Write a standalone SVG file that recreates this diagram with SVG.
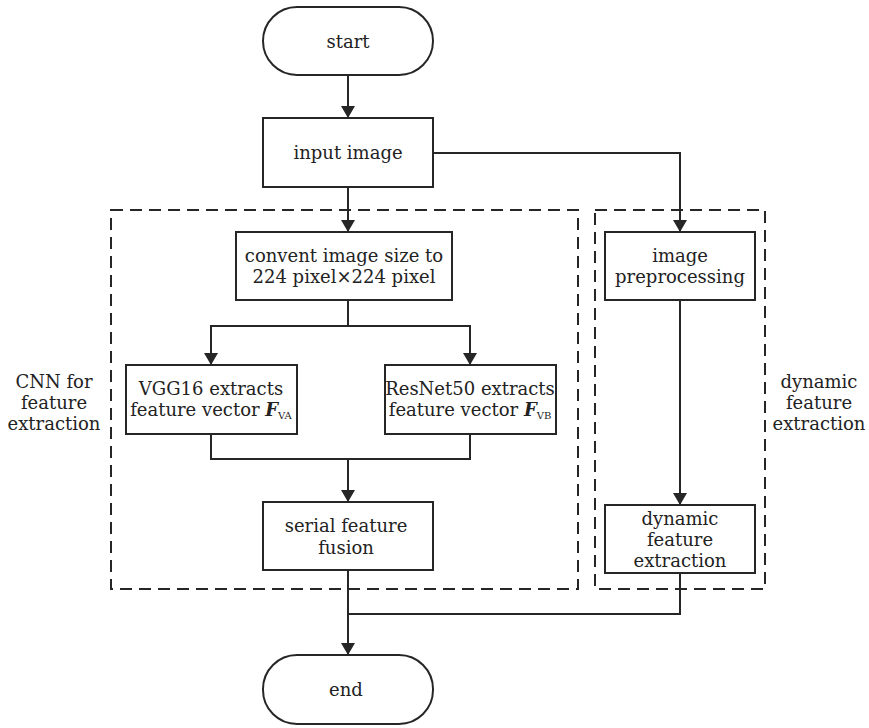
<svg xmlns="http://www.w3.org/2000/svg" width="869" height="728" viewBox="0 0 869 728">
<style>
  .box { fill: #fff; stroke: #262626; stroke-width: 2; }
  .dash { fill: none; stroke: #262626; stroke-width: 2; stroke-dasharray: 12 7; }
  .line { fill: none; stroke: #262626; stroke-width: 2; }
  .arr { marker-end: url(#ah); }
  text { font-family: "DejaVu Serif", "Liberation Serif", serif; font-size: 18px; fill: #222; text-anchor: middle; }
  .fv { font-weight: bold; font-style: italic; }
  .sub { font-size: 10px; }
</style>
<defs>
  <marker id="ah" markerWidth="12" markerHeight="14" refX="12" refY="7" orient="auto" markerUnits="userSpaceOnUse">
    <path d="M0,0 L12,7 L0,14 Z" fill="#262626"/>
  </marker>
</defs>
<rect width="869" height="728" fill="#fff"/>

<g id="groups">
  <rect id="cnn-group" class="dash" x="111" y="210" width="467" height="379"/>
  <rect id="dyn-group" class="dash" x="595" y="210" width="170" height="379"/>
  <text x="54" y="388">CNN for</text>
  <text x="54" y="409">feature</text>
  <text x="54" y="430">extraction</text>
  <text x="819" y="388">dynamic</text>
  <text x="819" y="409">feature</text>
  <text x="819" y="430">extraction</text>
</g>

<g id="connectors">
  <path class="line arr" d="M348,75 V118"/>
  <path class="line arr" d="M348,187 V232"/>
  <path class="line arr" d="M433,153 H680 V232"/>
  <path class="line" d="M348,300 V326 M211,326 H470"/>
  <path class="line arr" d="M211,325 V365"/>
  <path class="line arr" d="M470,325 V365"/>
  <path class="line" d="M211,434 V459 H470 V434"/>
  <path class="line arr" d="M348,459 V502"/>
  <path class="line arr" d="M680,300 V505"/>
  <path class="line arr" d="M348,570 V655"/>
  <path class="line" d="M680,573 V614 H348"/>
</g>

<g id="start">
  <rect class="box" x="263" y="7" width="170" height="68" rx="34"/>
  <text x="348" y="48">start</text>
</g>
<g id="input">
  <rect class="box" x="263" y="118" width="170" height="69"/>
  <text x="348" y="159">input image</text>
</g>
<g id="convent">
  <rect class="box" x="236" y="232" width="216" height="68"/>
  <text x="344" y="262">convent image size to</text>
  <text x="344" y="283">224 pixel×224 pixel</text>
</g>
<g id="vgg">
  <rect class="box" x="126" y="365" width="171" height="69"/>
  <text x="211" y="395">VGG16 extracts</text>
  <text x="211" y="416">feature vector <tspan class="fv">F</tspan><tspan class="sub" dy="3">VA</tspan></text>
</g>
<g id="resnet">
  <rect class="box" x="385" y="365" width="171" height="69"/>
  <text x="470" y="395">ResNet50 extracts</text>
  <text x="470" y="416">feature vector <tspan class="fv">F</tspan><tspan class="sub" dy="3">VB</tspan></text>
</g>
<g id="serial">
  <rect class="box" x="263" y="502" width="170" height="68"/>
  <text x="346" y="532">serial feature</text>
  <text x="346" y="554">fusion</text>
</g>
<g id="preproc">
  <rect class="box" x="605" y="232" width="150" height="68"/>
  <text x="680" y="262">image</text>
  <text x="680" y="283">preprocessing</text>
</g>
<g id="dynamic">
  <rect class="box" x="605" y="505" width="150" height="68"/>
  <text x="680" y="525">dynamic</text>
  <text x="680" y="546">feature</text>
  <text x="680" y="567">extraction</text>
</g>
<g id="end">
  <rect class="box" x="263" y="655" width="170" height="69" rx="34"/>
  <text x="346" y="696">end</text>
</g>
</svg>
